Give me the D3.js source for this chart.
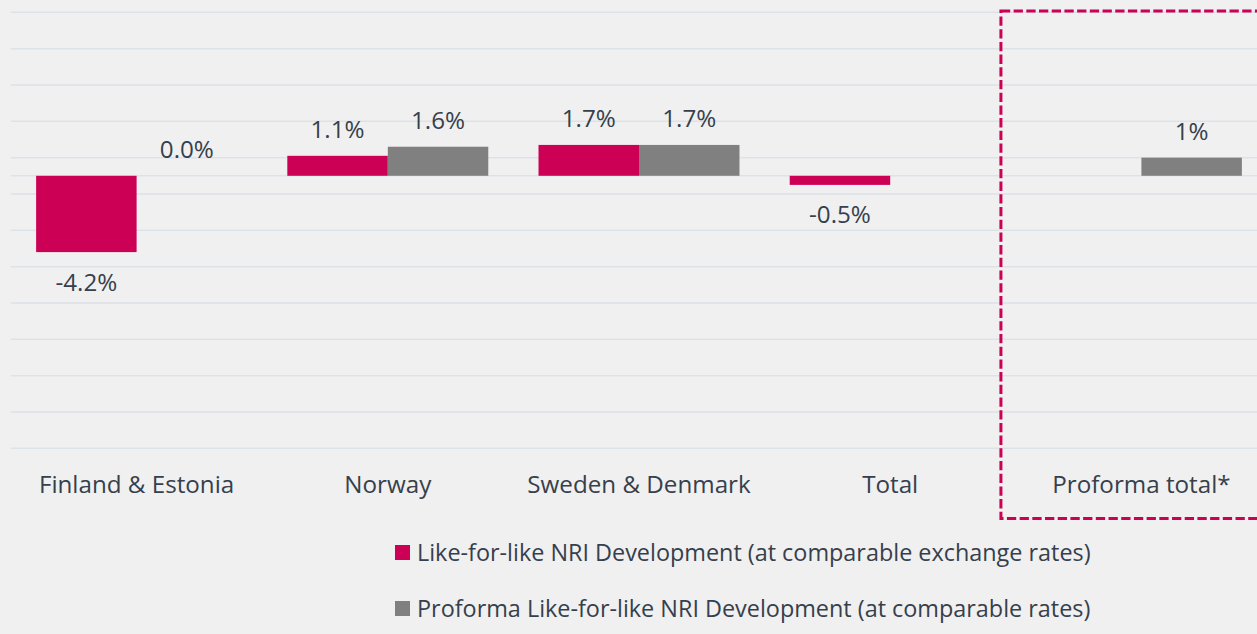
<!DOCTYPE html>
<html>
<head>
<meta charset="utf-8">
<script src="https://cdn.jsdelivr.net/npm/d3@7"></script>
<style>
  html, body { margin: 0; padding: 0; background: #f0f0f0; }
  svg { display: block; font-family: 'Open Sans', sans-serif; }
  .label { fill: #36404c; }
</style>
</head>
<body>
<div id="chart"></div>
<script>
'use strict';

// Data
let categories = ['Finland & Estonia', 'Norway', 'Sweden & Denmark', 'Total', 'Proforma total*'];
let seriesNames = [
  'Like-for-like NRI Development (at comparable exchange rates)',
  'Proforma Like-for-like NRI Development (at comparable rates)'
];
let lflValues = [-4.2, 1.1, 1.7, -0.5, null];
let proformaValues = [0.0, 1.6, 1.7, null, 1.0];
let lflLabels = ['-4.2%', '1.1%', '1.7%', '-0.5%', null];
let proformaLabels = ['0.0%', '1.6%', '1.7%', null, '1%'];
let yTicks = [-15, -13, -11, -9, -7, -5, -3, -1, 1, 3, 5, 7, 9];

// Formatting
let width = 1257;
let height = 634;
let plot = { left: 11, right: 1267, top: 12.3, bottom: 448.3 };
let colors = ['#cc0055', '#808080'];
let gridColor = '#dde2e7';
let fontSize = 24.2;
let legendFontSize = 23.4;

let svg = d3.select('#chart').append('svg')
  .attr('width', width)
  .attr('height', height);

svg.append('rect')
  .attr('width', width)
  .attr('height', height)
  .attr('fill', '#f0f0f0');

// Scales
let x0 = d3.scaleBand()
  .domain(categories)
  .range([plot.left, plot.right])
  .paddingInner(0.2)
  .paddingOuter(0.1);

let x1 = d3.scaleBand()
  .domain([0, 1])
  .range([0, x0.bandwidth()]);

let y = d3.scaleLinear()
  .domain([-15, 9])
  .range([plot.bottom, plot.top]);

// Gridlines (plus the category axis at zero)
svg.append('g')
  .selectAll('line')
  .data(yTicks.concat([0]))
  .enter()
  .append('line')
  .attr('x1', plot.left)
  .attr('x2', width)
  .attr('y1', (d) => y(d))
  .attr('y2', (d) => y(d))
  .attr('stroke', gridColor)
  .attr('stroke-width', 1.5);

// Bars
let rows = categories.map((c, i) => ({
  category: c,
  values: [
    { s: 0, v: lflValues[i], label: lflLabels[i] },
    { s: 1, v: proformaValues[i], label: proformaLabels[i] }
  ]
}));

let groups = svg.append('g')
  .selectAll('g')
  .data(rows)
  .enter()
  .append('g')
  .attr('transform', (d) => `translate(${x0(d.category)},0)`);

groups.selectAll('rect')
  .data((d) => d.values.filter((e) => e.v !== null))
  .enter()
  .append('rect')
  .attr('x', (d) => x1(d.s))
  .attr('y', (d) => y(Math.max(0, d.v)))
  .attr('width', x1.bandwidth())
  .attr('height', (d) => Math.abs(y(d.v) - y(0)))
  .attr('fill', (d) => colors[d.s]);

// Data labels
groups.selectAll('text')
  .data((d) => d.values.filter((e) => e.label !== null))
  .enter()
  .append('text')
  .attr('class', 'label')
  .attr('x', (d) => x1(d.s) + x1.bandwidth() / 2)
  .attr('y', (d) => d.v < 0 ? y(d.v) + 38.5 : y(d.v) - 18)
  .attr('text-anchor', 'middle')
  .style('font-size', `${fontSize}px`)
  .text((d) => d.label);

// Category labels
svg.append('g')
  .selectAll('text')
  .data(categories)
  .enter()
  .append('text')
  .attr('class', 'label')
  .attr('x', (d) => x0(d) + x0.bandwidth() / 2)
  .attr('y', 493)
  .attr('text-anchor', 'middle')
  .style('font-size', `${fontSize}px`)
  .text((d) => d);

// Dashed highlight round the proforma column
svg.append('rect')
  .attr('x', x0('Proforma total*') - 40)
  .attr('y', 11)
  .attr('width', 300)
  .attr('height', 507.5)
  .attr('fill', 'none')
  .attr('stroke', colors[0])
  .attr('stroke-width', 3)
  .attr('stroke-dasharray', '9.3,3.4');

// Legend
let legend = svg.append('g')
  .selectAll('g')
  .data(seriesNames)
  .enter()
  .append('g')
  .attr('transform', (d, i) => `translate(395,${545 + i * 56})`);

legend.append('rect')
  .attr('width', 15)
  .attr('height', 15)
  .attr('fill', (d, i) => colors[i]);

legend.append('text')
  .attr('class', 'label')
  .attr('x', 22)
  .attr('y', 16)
  .style('font-size', `${legendFontSize}px`)
  .text((d) => d);
</script>
</body>
</html>
